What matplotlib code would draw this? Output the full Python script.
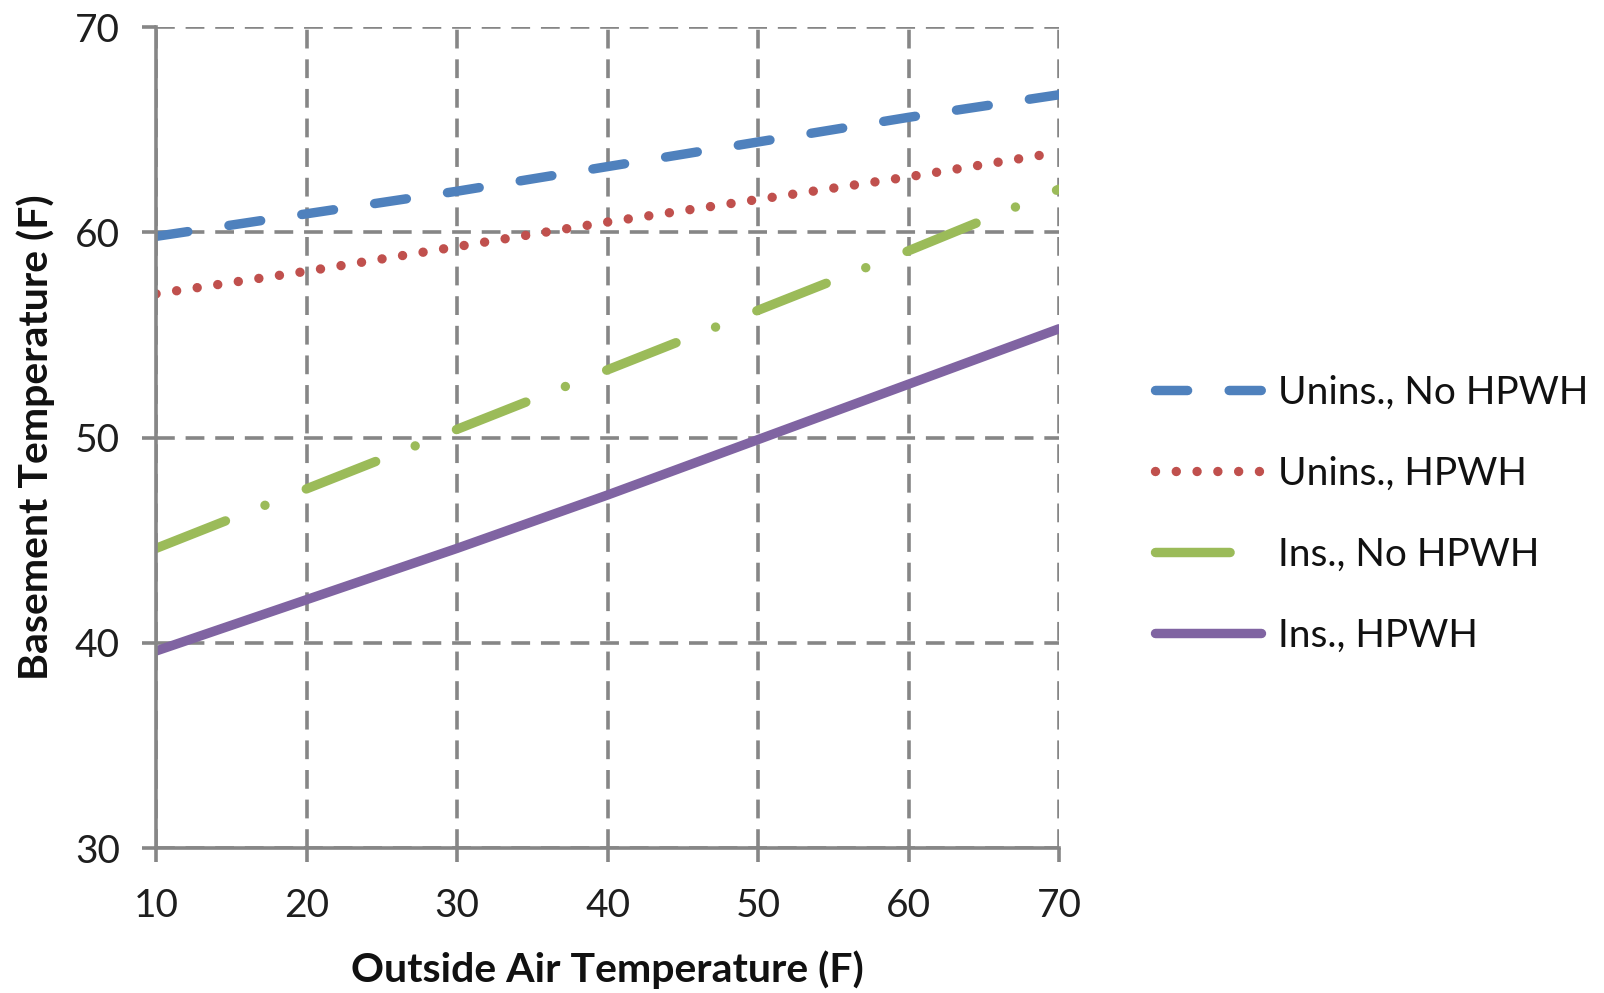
import matplotlib
matplotlib.use("Agg")
import matplotlib.pyplot as plt

# Data
outside_temp = [10, 20, 30, 40, 50, 60, 70]
unins_no_hpwh = [59.8, 60.9, 62.0, 63.2, 64.4, 65.6, 66.7]
unins_hpwh = [57.0, 58.1, 59.3, 60.5, 61.6, 62.7, 63.9]
ins_no_hpwh = [44.6, 47.5, 50.4, 53.3, 56.2, 59.1, 62.1]
ins_hpwh = [39.6, 42.1, 44.6, 47.2, 49.9, 52.6, 55.3]
series_labels = ["Unins., No HPWH", "Unins., HPWH", "Ins., No HPWH", "Ins., HPWH"]
x_ticks = [10, 20, 30, 40, 50, 60, 70]
y_ticks = [30, 40, 50, 60, 70]

FONT = "Lato"
plt.rcParams['font.family'] = [FONT, 'DejaVu Sans']
FS = 28
LABEL_FS = 29.5

fig = plt.figure(figsize=(16.04, 9.93), dpi=100)
ax = fig.add_axes([0.0973, 0.1460, 0.5630, 0.8268])

LW = 6.8
common = dict(linewidth=LW, dash_capstyle='round', solid_capstyle='round')
ax.plot(outside_temp, unins_no_hpwh, color='#4F81BD', dashes=(3.4, 4.4),
        label=series_labels[0], **common)
ax.plot(outside_temp, unins_hpwh, color='#C0504D', dashes=(0.001, 2.2),
        label=series_labels[1], **common)
ax.plot(outside_temp, ins_no_hpwh, color='#9BBB59', dashes=(7.9, 4.5, 0.001, 4.7),
        label=series_labels[2], **common)
ax.plot(outside_temp, ins_hpwh, color='#8064A2',
        label=series_labels[3], **common)

ax.set_xlim(10, 70)
ax.set_ylim(30, 70)
ax.set_xticks(x_ticks)
ax.set_yticks(y_ticks)

grey = '#868686'
ax.set_axisbelow(True)
ax.grid(True, color=grey, linewidth=2.6, linestyle=(0, (5.2, 3.0)))
for s in ['top', 'right']:
    ax.spines[s].set_visible(False)
for s in ['left', 'bottom']:
    ax.spines[s].set_color(grey)
    ax.spines[s].set_linewidth(2.6)

ax.tick_params(axis='both', direction='out', length=10, width=2.6, color=grey,
               labelsize=FS, labelcolor='#1e1e1e')
ax.tick_params(axis='y', pad=16)
ax.tick_params(axis='x', pad=19)

ax.set_xlabel("Outside Air Temperature (F)", fontsize=LABEL_FS, fontweight='bold',
              labelpad=19, color='#111111')
ax.set_ylabel("Basement Temperature (F)", fontsize=LABEL_FS, fontweight='bold',
              labelpad=14, color='#111111')

leg = fig.legend(loc='center left', bbox_to_anchor=(1154.5 / 1604, 1 - 514 / 993),
                 frameon=False, fontsize=FS, handlelength=2.75,
                 handletextpad=0.42, labelspacing=1.16, borderpad=0,
                 borderaxespad=0)
for t in leg.get_texts():
    t.set_color('#111111')

fig.savefig("out.png", dpi=100)
